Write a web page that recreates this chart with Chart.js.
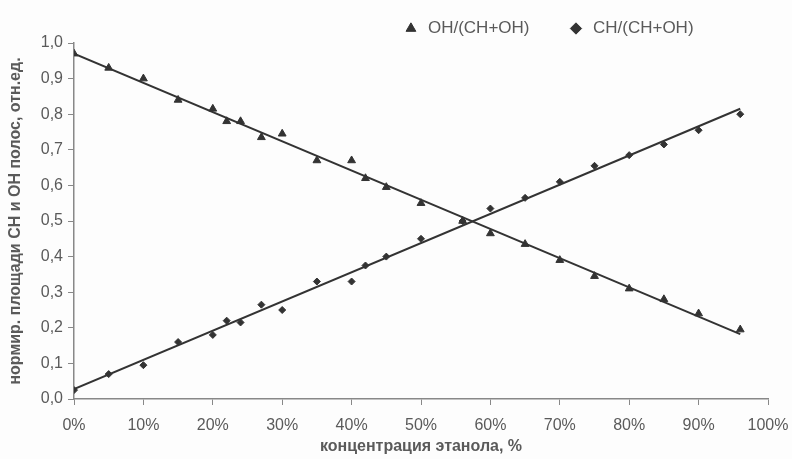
<!DOCTYPE html>
<html>
<head>
<meta charset="utf-8">
<script src="https://cdn.jsdelivr.net/npm/chart.js@4.4.0/dist/chart.umd.min.js"></script>
<style>
  body { margin: 0; background: #fdfdfd; }
  #wrap { width: 792px; height: 459px; }
</style>
</head>
<body>
<div id="wrap"><canvas id="chart" width="792" height="459"></canvas></div>
<script>
// ethanol concentration, %
const concentration = [0, 5, 10, 15, 20, 22, 24, 27, 30, 35, 40, 42, 45, 50, 56, 60, 65, 70, 75, 80, 85, 90, 96];
// normalized band areas
const ohShare = [0.97, 0.93, 0.90, 0.84, 0.815, 0.78, 0.78, 0.735, 0.745, 0.67, 0.67, 0.62, 0.595, 0.55, 0.50, 0.465, 0.435, 0.39, 0.345, 0.31, 0.28, 0.24, 0.195];
const chShare = [0.025, 0.07, 0.095, 0.16, 0.18, 0.22, 0.215, 0.265, 0.25, 0.33, 0.33, 0.375, 0.40, 0.45, 0.50, 0.535, 0.565, 0.61, 0.655, 0.685, 0.715, 0.755, 0.80];
const seriesNames = ['OH/(CH+OH)', 'CH/(CH+OH)'];

const TEXT = '#5a5a5a';
const INK = '#333333';
const FONT = "'Liberation Sans', Arial, sans-serif";

function points(xs, ys) {
    return xs.map((x, i) => ({ x: x, y: ys[i] }));
}

// least squares trend line, ends at first and last x
function trend(xs, ys) {
    const n = xs.length;
    let sx = 0, sy = 0, sxx = 0, sxy = 0;
    for (let i = 0; i < n; i++) {
        sx += xs[i]; sy += ys[i];
        sxx += xs[i] * xs[i]; sxy += xs[i] * ys[i];
    }
    const k = (n * sxy - sx * sy) / (n * sxx - sx * sx);
    const b = (sy - k * sx) / n;
    const x0 = xs[0], x1 = xs[n - 1];
    return [{ x: x0, y: k * x0 + b }, { x: x1, y: k * x1 + b }];
}

function trendSet(xs, ys) {
    return {
        label: 'trend',
        type: 'line',
        data: trend(xs, ys),
        borderColor: INK,
        borderWidth: 2,
        pointRadius: 0,
        showLine: true,
        fill: false,
        order: 2
    };
}

// legend: wide gap between items but a short box, sitting to the right
const legendPlace = {
    id: 'legendPlace',
    afterInit(chart) {
        const fit = chart.legend.fit;
        chart.legend.fit = function () {
            fit.call(this);
            this.height = 35;
        };
    },
    afterLayout(chart) {
        chart.legend.left += 162;
        chart.legend.right += 162;
        chart.legend.top -= 26;
    }
};

const ctx = document.getElementById('chart').getContext('2d');
Chart.defaults.font.family = FONT;
Chart.defaults.color = TEXT;

new Chart(ctx, {
    type: 'scatter',
    data: {
        datasets: [
            {
                label: seriesNames[0],
                data: points(concentration, ohShare),
                pointStyle: 'triangle',
                pointRadius: 4.5,
                backgroundColor: INK,
                borderColor: INK,
                borderWidth: 1,
                order: 1
            },
            {
                label: seriesNames[1],
                data: points(concentration, chShare),
                pointStyle: 'rectRot',
                pointRadius: 3.5,
                backgroundColor: INK,
                borderColor: INK,
                borderWidth: 1,
                order: 1
            },
            trendSet(concentration, ohShare),
            trendSet(concentration, chShare)
        ]
    },
    options: {
        responsive: false,
        animation: false,
        layout: { padding: { left: 4, right: 24, top: 8, bottom: 0 } },
        plugins: {
            tooltip: { enabled: false },
            legend: {
                display: true,
                position: 'top',
                labels: {
                    usePointStyle: true,
                    boxHeight: 8,
                    padding: 38,
                    color: TEXT,
                    font: { size: 17, family: FONT },
                    filter: item => item.text !== 'trend'
                }
            }
        },
        scales: {
            x: {
                type: 'linear',
                min: 0,
                max: 100,
                afterFit: s => { s.height = 60; s.paddingLeft = 0; s.paddingRight = 0; },
                ticks: {
                    stepSize: 10,
                    padding: 11,
                    color: TEXT,
                    font: { size: 16 },
                    callback: v => v + '%'
                },
                grid: { display: true, drawOnChartArea: false, drawTicks: true, tickLength: 6, color: '#888' },
                border: { display: true, color: '#888', width: 1.5 },
                title: {
                    display: true,
                    text: 'концентрация этанола, %',
                    color: TEXT,
                    font: { size: 16, weight: 'bold' },
                    padding: { top: 0, bottom: 3 }
                }
            },
            y: {
                min: 0,
                max: 1,
                afterFit: s => { s.width = 70; },
                ticks: {
                    stepSize: 0.1,
                    padding: 5,
                    color: TEXT,
                    font: { size: 16 },
                    callback: v => v.toFixed(1).replace('.', ',')
                },
                grid: { display: true, drawOnChartArea: false, drawTicks: true, tickLength: 6, color: '#888' },
                border: { display: true, color: '#888', width: 1.5 },
                title: {
                    display: true,
                    text: 'нормир. площади СН и ОН полос, отн.ед.',
                    color: TEXT,
                    font: { size: 16, weight: 'bold' },
                    padding: { top: 2, bottom: 4 }
                }
            }
        }
    },
    plugins: [legendPlace]
});
</script>
</body>
</html>
